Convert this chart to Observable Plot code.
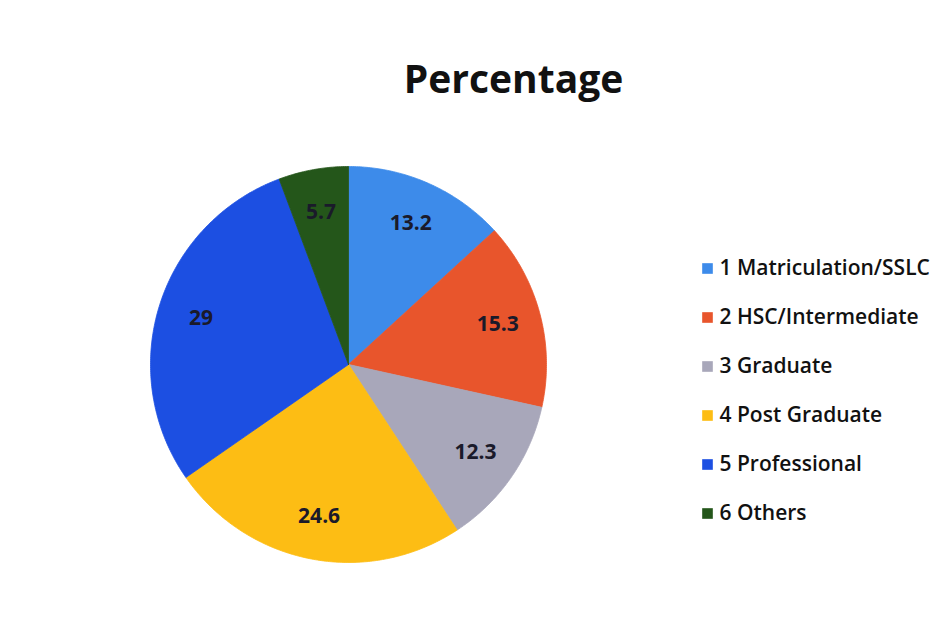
<!DOCTYPE html>
<html><head><meta charset="utf-8">
<script src="https://cdn.jsdelivr.net/npm/d3@7"></script>
<script src="https://cdn.jsdelivr.net/npm/@observablehq/plot@0.6"></script>
<style>body{margin:0;background:#fff;}</style>
</head><body><div id="chart"></div>
<script>
const title = "Percentage";
const categories = ["1 Matriculation/SSLC","2 HSC/Intermediate","3 Graduate","4 Post Graduate","5 Professional","6 Others"];
const values = [13.2, 15.3, 12.3, 24.6, 29, 5.7];
const colors = ["#3d8bea","#e8552c","#a8a7ba","#fdbd14","#1c4fe2","#24561a"];

const W = 951, H = 643, R = 198, CX = 348, CY = 364;
const arcs = d3.pie().sort(null)(values);
const polys = [];
const labels = [];
arcs.forEach((a, i) => {
  const cat = categories[i];
  const n = Math.max(2, Math.ceil((a.endAngle - a.startAngle) / 0.01));
  polys.push({cat, x: 0, y: 0});
  for (let k = 0; k <= n; k++) {
    const t = a.startAngle + (a.endAngle - a.startAngle) * k / n;
    polys.push({cat, x: Math.sin(t), y: Math.cos(t)});
  }
  polys.push({cat, x: 0, y: 0});
  const m = (a.startAngle + a.endAngle) / 2;
  labels.push({cat, x: 0.78 * Math.sin(m), y: 0.78 * Math.cos(m), text: String(values[i])});
});
const legend = categories.map((cat, i) => ({cat, x: (707 - CX) / R, tx: (719 - CX) / R, y: (CY - (268 + i * 49)) / R}));

const chart = Plot.plot({
  width: W, height: H, margin: 0,
  style: {fontFamily: "'Open Sans', sans-serif", background: "#fff"},
  x: {domain: [-CX / R, (W - CX) / R], axis: null},
  y: {domain: [(CY - H) / R, CY / R], axis: null},
  color: {domain: categories, range: colors},
  marks: [
    Plot.line(polys, {x: "x", y: "y", z: "cat", fill: "cat", stroke: "cat", strokeWidth: 0.8, curve: "linear"}),
    Plot.text(labels, {x: "x", y: "y", text: "text", fontWeight: "bold", fontSize: 21, fill: "#1a1a2a"}),
    Plot.dot(legend, {x: "x", y: "y", symbol: "square", fill: "cat", r: 6}),
    Plot.text(legend, {x: "tx", y: "y", text: "cat", textAnchor: "start", fontSize: 21, fontWeight: 600, fill: "#111"}),
    Plot.text([title], {x: (513 - CX) / R, y: (CY - 80) / R, text: d => d, fontWeight: "bold", fontSize: 39, fill: "#111"})
  ]
});
document.getElementById("chart").appendChild(chart);
</script>
</body></html>
